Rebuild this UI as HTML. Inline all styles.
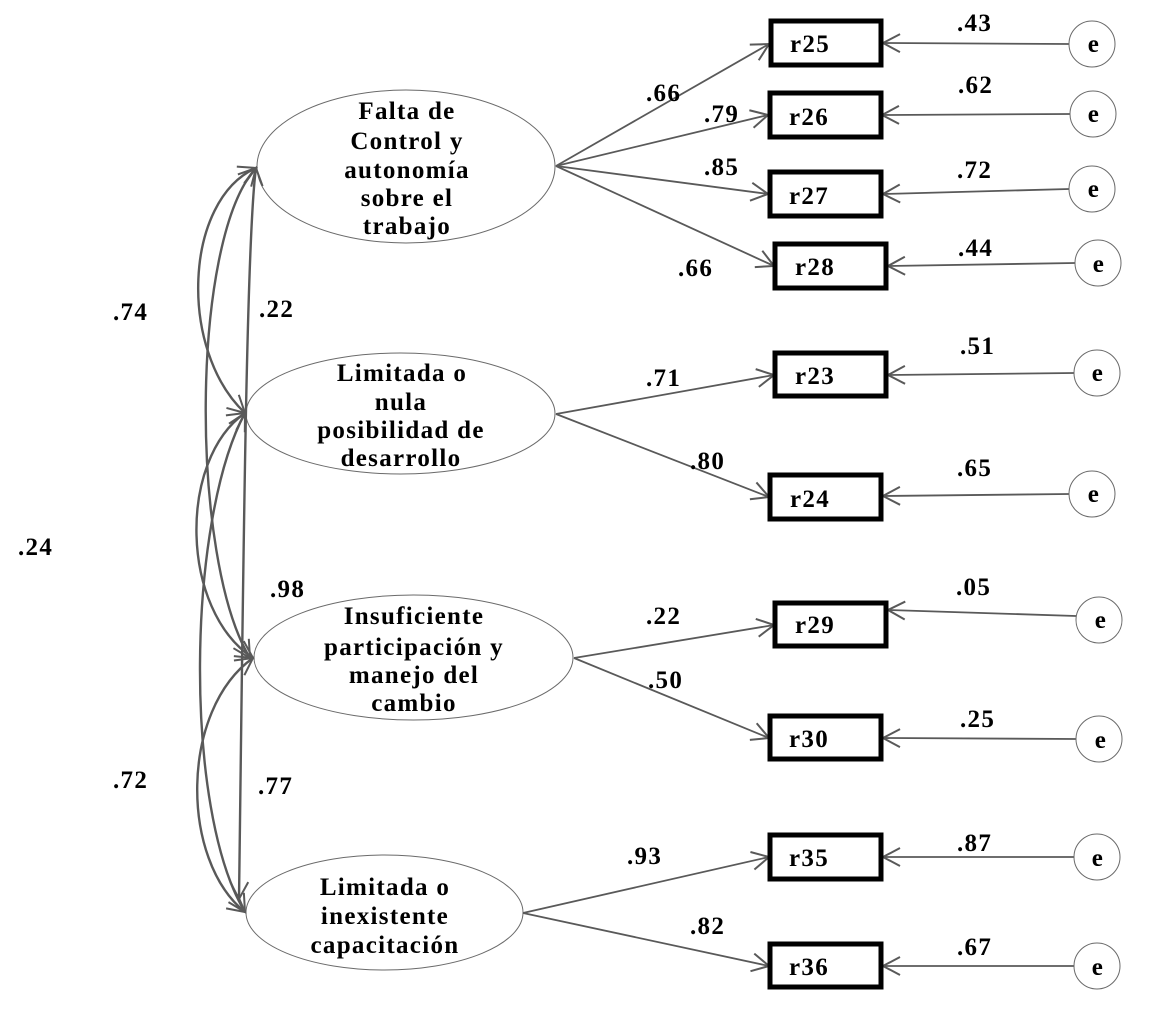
<!DOCTYPE html>
<html><head><meta charset="utf-8"><style>
html,body{margin:0;padding:0;background:#fff}
svg{display:block}
text{font-family:"Liberation Serif",serif;font-weight:bold;fill:#000;font-size:25px;letter-spacing:1.3px}
.n{text-anchor:middle}
.l{fill:none;stroke:#595959;stroke-width:1.8}
.c{fill:none;stroke:#595959;stroke-width:2.4}
.e{fill:#fff;stroke:#6a6a6a;stroke-width:1}
.b{fill:#fff;stroke:#000;stroke-width:5}
</style></head><body>
<svg width="1153" height="1018" viewBox="0 0 1153 1018" xmlns="http://www.w3.org/2000/svg">
<defs>
<marker id="a" markerUnits="userSpaceOnUse" markerWidth="24" markerHeight="24" refX="20" refY="12" orient="auto-start-reverse" overflow="visible"><path d="M3,3 L20,12 L3,21" fill="none" stroke="#595959" stroke-width="2"/></marker>
</defs>
<ellipse class="e" cx="406" cy="166.5" rx="149" ry="76.5"/>
<ellipse class="e" cx="400.5" cy="413.5" rx="154.5" ry="60.5"/>
<ellipse class="e" cx="413.5" cy="657.5" rx="159.5" ry="62.5"/>
<ellipse class="e" cx="384.5" cy="912.5" rx="138.5" ry="57.5"/>
<path class="c" d="M256,168 C184,200 178,350 245,413" marker-start="url(#a)" marker-end="url(#a)"/>
<path class="c" d="M256,168 C190,240 190,560 250,658" marker-start="url(#a)" marker-end="url(#a)"/>
<path class="c" d="M256,168 C246,240 243,600 239,899" marker-start="url(#a)" marker-end="url(#a)"/>
<path class="c" d="M245,413 C178,460 180,610 253,658" marker-start="url(#a)" marker-end="url(#a)"/>
<path class="c" d="M245,413 C187,520 183,810 245,912" marker-start="url(#a)" marker-end="url(#a)"/>
<path class="c" d="M253,658 C180,710 180,860 245,912" marker-start="url(#a)" marker-end="url(#a)"/>
<line class="l" x1="556" y1="166" x2="769" y2="44" marker-end="url(#a)"/>
<line class="l" x1="556" y1="166" x2="768" y2="115" marker-end="url(#a)"/>
<line class="l" x1="556" y1="166" x2="768" y2="194" marker-end="url(#a)"/>
<line class="l" x1="556" y1="166" x2="774" y2="266" marker-end="url(#a)"/>
<line class="l" x1="556" y1="414" x2="774" y2="375" marker-end="url(#a)"/>
<line class="l" x1="556" y1="414" x2="769" y2="497" marker-end="url(#a)"/>
<line class="l" x1="574" y1="658" x2="774" y2="625" marker-end="url(#a)"/>
<line class="l" x1="574" y1="658" x2="769" y2="738" marker-end="url(#a)"/>
<line class="l" x1="523" y1="913" x2="769" y2="857" marker-end="url(#a)"/>
<line class="l" x1="523" y1="913" x2="769" y2="966" marker-end="url(#a)"/>
<line class="l" x1="1069" y1="44" x2="883" y2="43" marker-end="url(#a)"/>
<line class="l" x1="1070" y1="114" x2="882" y2="115" marker-end="url(#a)"/>
<line class="l" x1="1069" y1="189" x2="883" y2="194" marker-end="url(#a)"/>
<line class="l" x1="1075" y1="263" x2="888" y2="266" marker-end="url(#a)"/>
<line class="l" x1="1074" y1="373" x2="888" y2="375" marker-end="url(#a)"/>
<line class="l" x1="1069" y1="494" x2="883" y2="496" marker-end="url(#a)"/>
<line class="l" x1="1076" y1="616" x2="888" y2="610" marker-end="url(#a)"/>
<line class="l" x1="1076" y1="739" x2="883" y2="738" marker-end="url(#a)"/>
<line class="l" x1="1074" y1="857" x2="883" y2="857" marker-end="url(#a)"/>
<line class="l" x1="1074" y1="966" x2="883" y2="966" marker-end="url(#a)"/>
<rect class="b" x="771" y="21" width="110" height="44"/>
<rect class="b" x="770" y="93" width="111" height="44"/>
<rect class="b" x="770" y="172" width="111" height="44"/>
<rect class="b" x="775" y="244" width="111" height="44"/>
<rect class="b" x="775" y="353" width="111" height="43"/>
<rect class="b" x="770" y="475" width="111" height="44"/>
<rect class="b" x="775" y="603" width="111" height="43"/>
<rect class="b" x="770" y="716" width="111" height="43"/>
<rect class="b" x="770" y="835" width="111" height="44"/>
<rect class="b" x="770" y="944" width="111" height="43"/>
<circle class="e" cx="1092" cy="44" r="23"/>
<circle class="e" cx="1093" cy="114" r="23"/>
<circle class="e" cx="1092" cy="189" r="23"/>
<circle class="e" cx="1098" cy="263" r="23"/>
<circle class="e" cx="1097" cy="373" r="23"/>
<circle class="e" cx="1092" cy="494" r="23"/>
<circle class="e" cx="1099" cy="620" r="23"/>
<circle class="e" cx="1099" cy="739" r="23"/>
<circle class="e" cx="1097" cy="857" r="23"/>
<circle class="e" cx="1097" cy="966" r="23"/>
<g transform="translate(0,1)">
<text x="790" y="51">r25</text><text x="789" y="124">r26</text><text x="789" y="203">r27</text><text x="795" y="274">r28</text><text x="795" y="383">r23</text><text x="790" y="506">r24</text><text x="795" y="632">r29</text><text x="789" y="746">r30</text><text x="789" y="865">r35</text><text x="789" y="974">r36</text>
<text class="n" x="1094" y="51">e</text><text class="n" x="1094" y="121">e</text><text class="n" x="1094" y="196">e</text><text class="n" x="1099" y="271">e</text><text class="n" x="1098" y="380">e</text><text class="n" x="1094" y="501">e</text><text class="n" x="1101" y="627">e</text><text class="n" x="1101" y="747">e</text><text class="n" x="1098" y="865">e</text><text class="n" x="1098" y="974">e</text>
<text x="957" y="30">.43</text><text x="958" y="92">.62</text><text x="957" y="177">.72</text><text x="958" y="255">.44</text><text x="960" y="353">.51</text><text x="957" y="475">.65</text><text x="956" y="594">.05</text><text x="960" y="726">.25</text><text x="957" y="850">.87</text><text x="957" y="954">.67</text>
<text x="646" y="100">.66</text><text x="704" y="121">.79</text><text x="704" y="174">.85</text><text x="678" y="275">.66</text><text x="646" y="385">.71</text><text x="690" y="468">.80</text><text x="646" y="623">.22</text><text x="648" y="687">.50</text><text x="627" y="863">.93</text><text x="690" y="933">.82</text>
<text x="113" y="319">.74</text><text x="259" y="316">.22</text><text x="18" y="554">.24</text><text x="270" y="596">.98</text><text x="113" y="787">.72</text><text x="258" y="793">.77</text>
<text class="n" x="407" y="118">Falta de</text><text class="n" x="407" y="148">Control y</text><text class="n" x="407" y="177">autonomía</text><text class="n" x="407" y="205">sobre el</text><text class="n" x="407" y="233">trabajo</text>
<text class="n" x="402" y="380">Limitada o</text><text class="n" x="401" y="409">nula</text><text class="n" x="401" y="437">posibilidad de</text><text class="n" x="401" y="465">desarrollo</text>
<text class="n" x="414" y="623">Insuficiente</text><text class="n" x="414" y="654">participación y</text><text class="n" x="414" y="682">manejo del</text><text class="n" x="414" y="710">cambio</text>
<text class="n" x="385" y="894">Limitada o</text><text class="n" x="385" y="923">inexistente</text><text class="n" x="385" y="952">capacitación</text>
</g>
</svg>
</body></html>
